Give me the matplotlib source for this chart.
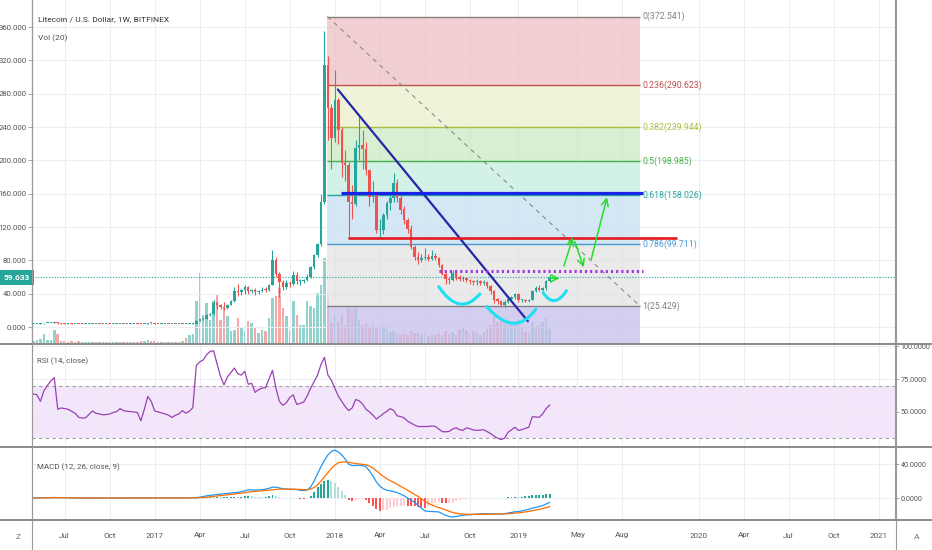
import numpy as np
import pandas as pd
import matplotlib
matplotlib.use("Agg")
import matplotlib.pyplot as plt
import matplotlib.dates as mdates
from matplotlib.path import Path
from matplotlib.patches import PathPatch
from matplotlib.lines import Line2D

plt.rcParams['font.family'] = ['Roboto', 'DejaVu Sans']

# ---------------- data (weekly LTC/USD, Bitfinex) ----------------
first_week = "2016-05-02"

opens = [3.60, 3.70, 3.80, 4.25, 4.55, 4.70, 4.80, 5.40, 4.40, 4.20,
         4.10, 4.20, 4.10, 4.10, 3.80, 3.75, 3.80, 3.80, 3.90, 3.90,
         3.80, 3.85, 3.90, 3.85, 3.90, 3.90, 3.95, 3.85, 3.85, 3.90,
         3.90, 3.85, 3.55, 3.90, 4.50, 4.40, 4.10, 3.90, 3.90, 3.85,
         4.00, 3.80, 3.80, 3.75, 3.95, 3.80, 3.85, 4.20, 7.40, 9.50,
         10.0, 14.5, 15.8, 28.5, 26.8, 24.0, 22.8, 27.0, 31.0, 43.5,
         41.5, 44.0, 48.0, 43.0, 44.0, 42.0, 43.5, 45.0, 44.5, 50.5,
         80.0, 64.0, 54.0, 48.5, 53.0, 51.5, 63.0, 55.0, 55.5, 56.0,
         60.0, 72.0, 86.0, 100.0, 150.0, 314.0, 263.0, 227.0, 272.0, 236.0,
         197.0, 195.0, 150.0, 148.0, 215.0, 218.0, 214.0, 188.0, 156.0, 158.0,
         116.0, 117.0, 134.0, 149.0, 155.0, 173.0, 155.0, 141.0, 128.0, 118.0,
         96.0, 84.0, 81.0, 83.0, 84.0, 82.0, 85.0, 83.0, 74.0, 64.0,
         58.0, 57.0, 65.0, 60.0, 58.0, 59.0, 56.0, 55.0, 54.0, 55.0,
         53.0, 54.0, 49.0, 43.0, 33.0, 31.0, 27.0, 30.0, 34.0, 36.0,
         40.0, 32.0, 32.5, 31.5, 33.0, 43.0, 46.5, 44.0, 47.0, 55.0]

closes = [3.70, 3.80, 4.25, 4.55, 4.70, 4.80, 5.40, 4.40, 4.20, 4.10,
          4.20, 4.10, 4.10, 3.80, 3.75, 3.80, 3.80, 3.90, 3.90, 3.80,
          3.85, 3.90, 3.85, 3.90, 3.90, 3.95, 3.85, 3.85, 3.90, 3.90,
          3.85, 3.55, 3.90, 4.50, 4.40, 4.10, 3.90, 3.90, 3.85, 4.00,
          3.80, 3.80, 3.75, 3.95, 3.80, 3.85, 4.20, 7.40, 9.50, 10.0,
          14.5, 15.8, 28.5, 26.8, 24.0, 22.8, 27.0, 31.0, 43.5, 41.5,
          44.0, 48.0, 43.0, 44.0, 42.0, 43.5, 45.0, 44.5, 50.5, 80.0,
          64.0, 54.0, 48.5, 53.0, 51.5, 63.0, 55.0, 55.5, 56.0, 60.0,
          72.0, 86.0, 100.0, 150.0, 314.0, 263.0, 227.0, 272.0, 236.0, 197.0,
          195.0, 150.0, 148.0, 215.0, 218.0, 214.0, 188.0, 156.0, 158.0, 116.0,
          117.0, 134.0, 149.0, 155.0, 173.0, 155.0, 141.0, 128.0, 118.0, 96.0,
          84.0, 81.0, 83.0, 84.0, 82.0, 85.0, 83.0, 74.0, 64.0, 58.0,
          57.0, 65.0, 60.0, 58.0, 59.0, 56.0, 55.0, 54.0, 55.0, 53.0,
          54.0, 49.0, 43.0, 33.0, 31.0, 27.0, 30.0, 34.0, 36.0, 40.0,
          32.0, 32.5, 31.5, 33.0, 43.0, 46.5, 44.0, 47.0, 55.0, 59.633]

highs = [3.9, 4.0, 4.5, 4.8, 4.9, 5.0, 5.9, 5.5, 4.5, 4.3,
         4.3, 4.3, 4.2, 4.2, 3.9, 3.9, 3.9, 4.0, 4.0, 4.0,
         3.95, 4.0, 4.0, 4.0, 4.0, 4.1, 4.0, 3.95, 4.0, 4.0,
         3.95, 3.9, 4.0, 4.7, 4.6, 4.6, 4.2, 4.0, 4.0, 4.1,
         4.1, 3.9, 3.85, 4.05, 4.0, 3.9, 4.4, 8.4, 10.0, 11.2,
         15.2, 17.0, 32.0, 31.5, 28.0, 30.0, 28.0, 32.5, 48.0, 52.0,
         46.0, 51.0, 49.0, 46.0, 46.5, 45.0, 47.5, 48.0, 52.0, 92.0,
         84.0, 66.0, 56.0, 56.0, 55.0, 67.0, 66.0, 58.0, 58.0, 64.0,
         73.0, 88.0, 101.0, 160.0, 355.0, 325.0, 268.0, 308.0, 275.0, 240.0,
         212.0, 198.0, 170.0, 225.0, 252.0, 236.0, 222.0, 190.0, 175.0, 162.0,
         130.0, 137.0, 151.0, 158.0, 185.0, 178.0, 158.0, 145.0, 131.0, 122.0,
         98.0, 90.0, 88.0, 95.0, 88.0, 92.0, 89.0, 84.0, 76.0, 66.0,
         60.0, 68.0, 66.0, 62.0, 61.0, 60.0, 58.0, 57.0, 58.0, 56.0,
         56.0, 55.0, 50.0, 44.0, 35.0, 33.0, 32.0, 35.0, 37.5, 41.0,
         41.0, 34.0, 33.5, 34.0, 44.0, 49.0, 50.0, 48.0, 57.0, 62.0]

lows = [3.4, 3.6, 3.7, 4.1, 4.4, 4.6, 4.6, 4.0, 3.9, 3.9,
        4.0, 3.9, 3.9, 3.5, 3.6, 3.7, 3.7, 3.7, 3.8, 3.7,
        3.7, 3.8, 3.7, 3.8, 3.8, 3.8, 3.7, 3.7, 3.8, 3.8,
        3.7, 3.4, 3.4, 3.8, 4.1, 3.8, 3.7, 3.8, 3.7, 3.8,
        3.6, 3.7, 3.6, 3.7, 3.7, 3.7, 3.8, 4.1, 6.8, 8.5,
        9.2, 13.0, 15.0, 22.0, 22.0, 21.0, 22.0, 26.0, 30.0, 37.0,
        38.0, 40.0, 40.0, 41.0, 38.0, 40.0, 42.0, 42.0, 43.0, 50.0,
        60.0, 36.0, 44.0, 46.0, 48.0, 50.0, 52.0, 50.0, 53.0, 55.0,
        59.0, 70.0, 84.0, 97.0, 148.0, 225.0, 190.0, 222.0, 220.0, 180.0,
        175.0, 108.0, 130.0, 145.0, 200.0, 190.0, 182.0, 145.0, 150.0, 113.0,
        108.0, 112.0, 130.0, 140.0, 150.0, 150.0, 136.0, 124.0, 113.0, 94.0,
        80.0, 76.0, 78.0, 80.0, 79.0, 80.0, 80.0, 72.0, 62.0, 52.0,
        52.0, 55.0, 57.0, 55.0, 55.0, 54.0, 52.0, 50.0, 51.0, 51.0,
        51.0, 47.0, 40.0, 29.0, 28.0, 24.5, 24.0, 29.0, 33.0, 34.0,
        30.0, 30.0, 30.0, 30.0, 32.0, 42.0, 43.0, 43.0, 45.0, 54.0]

volumes = [2, 3, 4, 9, 3, 3, 13, 9, 2, 2,
           1, 2, 1, 2, 1, 1, 1, 1, 1, 1,
           1, 1, 1, 1, 1, 1, 1, 1, 1, 1,
           1, 2, 2, 3, 2, 2, 1, 1, 1, 1,
           1, 1, 1, 2, 5, 8, 9, 42, 70, 28,
           40, 23, 42, 48, 23, 35, 27, 12, 13, 25,
           15, 12, 22, 20, 15, 10, 13, 12, 25, 45,
           47, 55, 35, 27, 13, 42, 28, 18, 18, 42,
           37, 35, 50, 58, 85, 45, 20, 28, 21, 28,
           18, 35, 33, 35, 23, 18, 20, 15, 18, 15,
           13, 17, 14, 11, 12, 9, 8, 10, 8, 12,
           10, 10, 8, 9, 7, 8, 8, 10, 8, 12,
           9, 11, 8, 13, 15, 13, 9, 12, 11, 8,
           11, 14, 18, 28, 21, 25, 23, 21, 20, 21,
           23, 15, 11, 10, 21, 15, 18, 21, 25, 14]

rsi = [63.6, 63.0, 58.0, 66.0, 70.0, 73.5, 76.0, 52.0, 53.0, 52.5,
       52.0, 50.5, 49.0, 46.0, 45.3, 45.5, 48.0, 50.7, 49.0, 48.5,
       47.8, 48.0, 48.4, 49.5, 50.2, 52.5, 51.0, 50.5, 50.2, 50.0,
       49.5, 43.3, 52.0, 61.8, 58.0, 50.7, 50.0, 49.2, 48.5, 47.5,
       45.8, 47.5, 48.5, 51.0, 49.0, 50.5, 53.2, 85.3, 88.0, 89.5,
       93.5, 96.0, 96.4, 86.5, 77.0, 70.5, 76.7, 80.0, 83.3, 79.0,
       78.0, 80.9, 71.0, 71.7, 64.8, 67.0, 68.0, 68.5, 75.0, 81.6,
       68.0, 58.0, 55.0, 57.0, 61.0, 63.0, 55.7, 56.5, 57.5, 62.0,
       68.0, 73.0, 78.0, 86.0, 91.5, 78.0, 74.0, 68.0, 62.0, 58.0,
       54.0, 51.0, 53.0, 59.4, 58.5, 56.0, 52.0, 50.0, 47.5, 44.6,
       46.5, 48.7, 50.5, 52.5, 51.0, 47.0, 46.5, 45.5, 43.0, 41.5,
       40.0, 38.9, 38.9, 38.9, 38.9, 39.3, 39.0, 37.0, 35.0, 34.9,
       35.2, 37.0, 37.9, 36.5, 36.0, 37.9, 37.2, 36.3, 36.0, 36.2,
       36.4, 35.0, 33.5, 31.5, 30.0, 29.0, 30.0, 34.5, 36.5, 38.4,
       35.9, 36.5, 37.5, 38.4, 46.3, 46.2, 45.9, 48.5, 52.5, 55.2]

macd = [0.1, 0.1, 0.2, 0.3, 0.3, 0.4, 0.6, 0.5, 0.3, 0.2,
        0.1, 0.1, 0.1, 0.0, 0.0, 0.0, 0.0, 0.0, 0.0, 0.0,
        0.0, 0.0, 0.0, 0.0, 0.0, 0.0, 0.0, 0.0, 0.0, 0.0,
        0.0, -0.1, 0.0, 0.1, 0.1, 0.1, 0.1, 0.0, 0.0, 0.0,
        0.0, 0.0, 0.0, 0.0, 0.0, 0.0, 0.1, 0.5, 1.0, 1.8,
        2.6, 3.2, 3.6, 4.2, 4.6, 5.0, 5.4, 5.9, 6.4, 6.7,
        7.5, 8.6, 9.6, 9.6, 9.4, 9.6, 9.8, 10.5, 11.5, 12.8,
        12.9, 12.0, 11.0, 10.6, 10.2, 10.4, 10.0, 9.2, 8.8, 9.5,
        13.0, 20.0, 28.8, 37.0, 44.8, 51.0, 55.0, 56.8, 54.5, 51.0,
        46.0, 40.0, 38.5, 38.5, 38.8, 38.5, 36.8, 32.0, 26.0, 19.0,
        14.0, 11.0, 9.2, 8.5, 7.6, 6.5, 4.5, 2.8, 0.0, -2.5,
        -5.2, -8.5, -12.0, -15.2, -15.8, -16.0, -16.2, -16.4, -18.5, -20.5,
        -21.8, -22.4, -22.0, -21.0, -20.4, -20.0, -19.8, -19.3, -19.0, -18.7,
        -18.5, -18.5, -18.5, -18.7, -18.9, -19.0, -18.5, -17.8, -17.0, -16.3,
        -16.0, -15.3, -14.3, -13.2, -12.0, -11.0, -10.0, -9.0, -7.0, -5.2]

signal = [0.0, 0.0, 0.1, 0.1, 0.2, 0.2, 0.3, 0.4, 0.4, 0.3,
          0.3, 0.2, 0.2, 0.1, 0.1, 0.1, 0.0, 0.0, 0.0, 0.0,
          0.0, 0.0, 0.0, 0.0, 0.0, 0.0, 0.0, 0.0, 0.0, 0.0,
          0.0, 0.0, 0.0, 0.0, 0.1, 0.1, 0.1, 0.1, 0.0, 0.0,
          0.0, 0.0, 0.0, 0.0, 0.0, 0.0, 0.0, 0.1, 0.3, 0.6,
          1.0, 1.5, 2.0, 2.4, 2.9, 3.3, 3.7, 4.2, 4.7, 5.2,
          5.7, 6.3, 7.0, 7.5, 7.9, 8.3, 8.6, 9.0, 9.3, 9.6,
          10.2, 10.6, 10.7, 10.7, 10.6, 10.6, 10.5, 10.2, 9.9, 9.8,
          10.5, 12.5, 15.7, 20.0, 25.0, 30.0, 35.0, 39.0, 41.6, 42.6,
          42.8, 42.2, 41.5, 40.8, 40.4, 39.9, 39.2, 37.8, 35.5, 32.3,
          28.8, 25.6, 22.9, 20.5, 18.5, 16.1, 13.8, 11.6, 9.2, 6.9,
          4.5, 1.9, -1.0, -3.8, -6.2, -8.2, -9.8, -11.2, -12.6, -14.2,
          -15.7, -17.0, -18.0, -18.6, -19.0, -19.2, -19.3, -19.3, -19.3, -19.2,
          -19.1, -19.0, -18.9, -18.9, -18.9, -18.9, -18.8, -18.6, -18.3, -17.9,
          -17.5, -17.1, -16.5, -15.8, -15.0, -14.2, -13.4, -12.5, -11.4, -10.2]

last_price = 59.633

# fibonacci retracement drawn on the chart
fib_start, fib_end = "2017-12-17", "2019-09-09"
fib_names = ["0", "0.236", "0.382", "0.5", "0.618", "0.786", "1"]
fib_prices = [372.541, 290.623, 239.944, 198.985, 158.026, 99.711, 25.429]
fib_ext_price = -189.086   # 1.618 level, below the visible area
fib_line_colors = ["#8c7f80", "#c0504d", "#a8c040", "#4caf50", "#26a69a", "#4a9ad4", "#808080"]
fib_fill_colors = ["#eec0c3", "#ebf0ca", "#caebc3", "#c3eee0", "#c6e0f2", "#e3e3e3", "#c6c0eb"]

# hand drawn tools
trend_line = ("2018-01-07", 285.0, "2019-01-26", 7.0)
h_lines = [("2018-01-14", "2019-09-15", 160.5, "#1a22e8", 2.3, "-"),
           ("2018-01-28", "2019-11-23", 106.5, "#e3191f", 1.9, "-"),
           ("2018-07-31", "2019-09-15", 67.5, "#a335e0", 2.2, (0, (0.7, 1.0)))]
arcs = [[("2018-07-30", 48.4), ("2018-09-10", 27.6), ("2018-10-21", 39.6)],
        [("2018-11-04", 24.4), ("2018-12-27", 4.4), ("2019-02-11", 21.2)],
        [("2019-02-26", 41.2), ("2019-03-21", 31.6), ("2019-04-14", 43.6)]]
arrows = [("2019-03-11", 58.4, "2019-03-31", 58.4),
          ("2019-04-09", 73.2, "2019-04-27", 107.6),
          ("2019-05-01", 102.4, "2019-05-19", 71.6),
          ("2019-06-03", 81.2, "2019-07-05", 155.6)]

x_range = ("2016-04-29", "2021-02-06")
tick_dates = ["2016-07-04", "2016-10-03", "2017-01-02", "2017-04-03", "2017-07-03",
              "2017-10-02", "2018-01-01", "2018-04-02", "2018-07-02", "2018-10-01",
              "2019-01-07", "2019-05-06", "2019-08-05", "2020-01-06", "2020-04-06",
              "2020-07-06", "2020-10-05", "2021-01-04"]
tick_labels = ["Jul", "Oct", "2017", "Apr", "Jul", "Oct", "2018", "Apr", "Jul", "Oct",
               "2019", "May", "Aug", "2020", "Apr", "Jul", "Oct", "2021"]
price_ticks = [0, 40, 80, 120, 160, 200, 240, 280, 320, 360]

# ---------------- styling ----------------
TEAL = "#26a69a"
RED = "#ef5350"
GRID = "#eceef3"
TXT = "#555555"
W, H = 932, 550


def d(s):
    return mdates.date2num(pd.Timestamp(s))


def rect(x0, y0, x1, y1):
    return [x0 / W, 1 - y1 / H, (x1 - x0) / W, (y1 - y0) / H]


fig = plt.figure(figsize=(W / 100, H / 100), dpi=100)
fig.patch.set_facecolor("white")

ax_vol = fig.add_axes(rect(32, 0, 895, 343))
ax = fig.add_axes(rect(32, 0, 895, 343))
ax_rsi = fig.add_axes(rect(32, 344, 895, 446))
ax_macd = fig.add_axes(rect(32, 447, 895, 520))
ax.patch.set_alpha(0)

xd = mdates.date2num(pd.date_range(first_week, periods=len(closes), freq="7D"))
o = np.array(opens)
c = np.array(closes)
up = c >= o
col = np.where(up, TEAL, RED)

xt = [d(t) for t in tick_dates]
for a in (ax_vol, ax, ax_rsi, ax_macd):
    a.set_xlim(d(x_range[0]), d(x_range[1]))
    a.set_xticks(xt)
    for s in ("top", "bottom"):
        a.spines[s].set_visible(False)
    for s in ("left", "right"):
        a.spines[s].set_color("#9a9a9a")
        a.spines[s].set_linewidth(0.8)

# volume (own scale, under the price pane)
ax_vol.bar(xd, volumes, width=5, color=col, alpha=0.5, linewidth=0)
ax_vol.set_ylim(0, max(volumes) * 4.03)
ax_vol.set_yticks([])
ax_vol.tick_params(axis="x", length=0, labelbottom=False)

# price pane
ax.set_ylim(-19.2, 392.4)
ax.set_axisbelow(True)
ax.grid(True, color=GRID, lw=0.8)
ax.set_yticks(price_ticks)
ax.set_yticklabels([f"{v:.3f}" for v in price_ticks])
ax.tick_params(axis="y", direction="out", length=3, width=0.6, color="#999999",
               labelsize=5.6, labelcolor=TXT, pad=1)
ax.tick_params(axis="x", length=0, labelbottom=False)

# fib zones, levels and labels
x0f, x1f = d(fib_start), d(fib_end)
zone_edges = fib_prices + [fib_ext_price]
for k in range(len(fib_fill_colors)):
    ax.fill_between([x0f, x1f], zone_edges[k + 1], zone_edges[k],
                    color=fib_fill_colors[k], alpha=0.75, lw=0, zorder=1)
for name, p, lc in zip(fib_names, fib_prices, fib_line_colors):
    ax.hlines(p, x0f, x1f, color=lc, lw=1.0, zorder=2)
    ax.annotate(f"{name}({p:.3f})", xy=(x1f, p), xytext=(2, 0), textcoords="offset points",
                ha="left", va="center", color=lc, fontsize=6.3, zorder=8)
ax.plot([x0f, x1f], [fib_prices[0], fib_prices[-1]], color="#8a8a8a", lw=0.8,
        ls=(0, (4, 4)), zorder=3)

# candles
ax.vlines(xd, lows, highs, colors=col, lw=0.8, zorder=4)
ax.bar(xd, np.maximum(np.abs(c - o), 1.1), bottom=np.minimum(o, c), width=5,
       color=col, linewidth=0, zorder=5)

# last price line + tag
ax.axhline(last_price, color=TEAL, lw=0.8, ls=(0, (1, 1.5)), zorder=3)
ax.annotate(f"{last_price:.3f}", xy=(0, last_price), xycoords=ax.get_yaxis_transform(),
            xytext=(-2, 0), textcoords="offset pixels", ha="right", va="center",
            fontsize=6.0, color="white", fontweight="bold", annotation_clip=False,
            bbox=dict(boxstyle="square,pad=0.45", fc=TEAL, ec="none"), zorder=10)

# drawings
ax.plot([d(trend_line[0]), d(trend_line[2])], [trend_line[1], trend_line[3]],
        color="#2626a6", lw=1.6, zorder=6, solid_capstyle="round")
for s, e, p, lc, lw, ls in h_lines:
    ax.hlines(p, d(s), d(e), color=lc, lw=lw, ls=ls, zorder=6)
for arc in arcs:
    p0 = np.array([d(arc[0][0]), arc[0][1]])
    pm = np.array([d(arc[1][0]), arc[1][1]])
    p2 = np.array([d(arc[2][0]), arc[2][1]])
    ctrl = 2 * pm - (p0 + p2) / 2
    path = Path([p0, ctrl, p2], [Path.MOVETO, Path.CURVE3, Path.CURVE3])
    ax.add_patch(PathPatch(path, fc="none", ec="#1fe0f2", lw=2.2, zorder=6,
                           capstyle="round"))
for s, p1, e, p2 in arrows:
    ax.annotate("", xy=(d(e), p2), xytext=(d(s), p1),
                arrowprops=dict(arrowstyle="->,head_length=0.5,head_width=0.25",
                                color="#22e022", lw=1.1, shrinkA=0, shrinkB=0),
                zorder=7)

# RSI pane
ax_rsi.set_ylim(24.1, 101.6)
ax_rsi.set_axisbelow(True)
ax_rsi.axhspan(30, 70, color="#f3e6fb", lw=0, zorder=0)
ax_rsi.hlines([70, 30], d(x_range[0]), d(x_range[1]), color="#a0a0a0", lw=0.8,
              ls=(0, (3, 3)), zorder=1)
ax_rsi.plot(xd, rsi, color="#9b40b4", lw=0.9, zorder=3)
ax_rsi.yaxis.tick_right()
ax_rsi.set_yticks([50, 75, 100])
ax_rsi.set_yticklabels(["50.0000", "75.0000", "100.0000"])
ax_rsi.grid(True, color=GRID, lw=0.8)
ax_rsi.tick_params(axis="y", direction="out", length=3, width=0.6, color="#999999",
                   labelsize=5.2, labelcolor=TXT, pad=1)
ax_rsi.tick_params(axis="x", length=0, labelbottom=False)

# MACD pane
hist = np.array(macd) - np.array(signal)
prev = np.concatenate([[0.0], hist[:-1]])
hcol = np.where(hist >= 0, np.where(hist >= prev, "#26a69a", "#b2dfdb"),
                np.where(hist < prev, "#ff5252", "#ffcdd2"))
ax_macd.set_ylim(-26.0, 60.4)
ax_macd.set_axisbelow(True)
ax_macd.bar(xd, hist, width=4, color=hcol, linewidth=0, zorder=2)
ax_macd.plot(xd, macd, color="#2196f3", lw=0.9, zorder=3)
ax_macd.plot(xd, signal, color="#ff6d00", lw=0.9, zorder=4)
ax_macd.yaxis.tick_right()
ax_macd.set_yticks([0, 40])
ax_macd.set_yticklabels(["0.0000", "40.0000"])
ax_macd.grid(True, color=GRID, lw=0.8)
ax_macd.tick_params(axis="y", direction="out", length=3, width=0.6, color="#999999",
                    labelsize=5.2, labelcolor=TXT, pad=1)
ax_macd.set_xticklabels(tick_labels)
ax_macd.tick_params(axis="x", length=0, pad=9, labelsize=5.8, labelcolor=TXT)

# pane titles
fig.text(38 / W, 1 - 19 / H, "Litecoin / U.S. Dollar, 1W, BITFINEX", fontsize=6.0,
         color="#333333", va="center")
fig.text(38 / W, 1 - 38 / H, "Vol (20)", fontsize=6.0, color=TXT, va="center")
fig.text(37 / W, 1 - 361 / H, "RSI (14, close)", fontsize=5.8, color=TXT, va="center")
fig.text(37 / W, 1 - 467 / H, "MACD (12, 26, close, 9)", fontsize=5.8, color=TXT, va="center")
fig.text(18 / W, 1 - 537 / H, "Z", fontsize=6, color="#777777", ha="center", va="center")
fig.text(917 / W, 1 - 537 / H, "A", fontsize=6, color="#777777", ha="center", va="center")

# pane separators and side borders
for yy in (343.5, 446.5, 520):
    fig.add_artist(Line2D([0, 1], [1 - yy / H] * 2, color="#8a8a8a", lw=1.4,
                          transform=fig.transFigure))
for xx in (32, 895.5):
    fig.add_artist(Line2D([xx / W] * 2, [0, 1], color="#9a9a9a", lw=0.8,
                          transform=fig.transFigure))

fig.savefig("out.png", dpi=100)
